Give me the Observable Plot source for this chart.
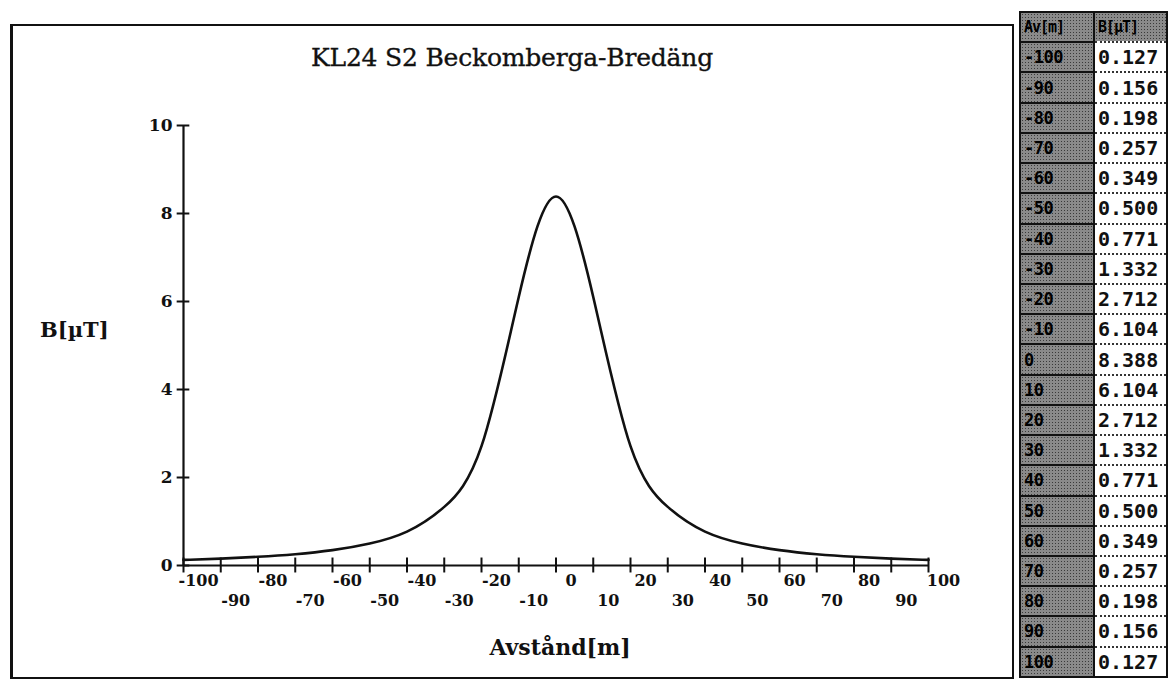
<!DOCTYPE html>
<html>
<head>
<meta charset="utf-8">
<script src="https://cdn.jsdelivr.net/npm/d3@7"></script>
<script src="https://cdn.jsdelivr.net/npm/@observablehq/plot@0.6"></script>
<style>
  html, body { margin: 0; padding: 0; background: #fff; }
  #page { position: relative; width: 1170px; height: 682px; overflow: hidden; background: #fff; }
  #frame { position: absolute; left: 10px; top: 24px; width: 1004px; height: 655px;
           border: 2px solid #111; border-left-width: 3px; box-sizing: border-box; }
  #title { position: absolute; left: 262px; width: 500px; top: 43px; text-align: center;
           font-family: "DejaVu Serif", serif; font-size: 25px; color: #111; white-space: nowrap;
           -webkit-text-stroke: 0.35px #111; letter-spacing: -0.2px; }
  #ylab { position: absolute; left: 40px; top: 317px; font-family: "DejaVu Serif", serif;
          font-weight: bold; font-size: 21px; color: #111; }
  #xlab { position: absolute; left: 440px; width: 240px; top: 634px; text-align: center;
          font-family: "DejaVu Serif", serif; font-weight: bold; font-size: 22px; color: #111; }
  #chart { position: absolute; left: 0; top: 0; }
  #tbl { position: absolute; left: 1019px; top: 11px; width: 149px; height: 667px;
         border-collapse: collapse; border: 2px solid #111; table-layout: fixed; }
  #tbl td { padding: 0 0 0 3px; height: 30px; box-sizing: border-box; white-space: nowrap; overflow: hidden; }
  #tbl td.k { width: 74px; background-color: #8a8a8a;
              background-image: radial-gradient(#3a3a3a 35%, transparent 40%);
              background-size: 3px 3px; border-top: 2px solid #111; border-right: 2px solid #111;
              font-family: "DejaVu Sans Mono", monospace; font-weight: bold; font-size: 17px; color: #000;
              letter-spacing: -0.5px; }
  #tbl td.v { background: #fff; border-top: 2px dotted #333;
              font-family: "DejaVu Sans Mono", monospace; font-weight: bold; font-size: 20px; color: #111; }
  #tbl tr.h td { background-color: #8a8a8a;
              background-image: radial-gradient(#3a3a3a 35%, transparent 40%);
              background-size: 3px 3px; font-size: 15px; color: #000; border-top: none; letter-spacing: -1px; }
</style>
</head>
<body>
<div id="page">
  <div id="frame"></div>
  <div id="title">KL24 S2 Beckomberga-Bredäng</div>
  <div id="ylab">B[µT]</div>
  <div id="xlab">Avstånd[m]</div>
  <div id="chart"></div>
  <table id="tbl"></table>
</div>
<script>
// Distances (m) and magnetic flux density B (µT)
const distances = [-100, -90, -80, -70, -60, -50, -40, -30, -20, -10, 0, 10, 20, 30, 40, 50, 60, 70, 80, 90, 100];
const bValues   = [0.127, 0.156, 0.198, 0.257, 0.349, 0.500, 0.771, 1.332, 2.712, 6.104, 8.388,
                   6.104, 2.712, 1.332, 0.771, 0.500, 0.349, 0.257, 0.198, 0.156, 0.127];
const xTicksRow1 = [-100, -80, -60, -40, -20, 0, 20, 40, 60, 80, 100];
const xTicksRow2 = [-90, -70, -50, -30, -10, 10, 30, 50, 70, 90];
const yTicks = [0, 2, 4, 6, 8, 10];
const tableHeader = ["Av[m]", "B[µT]"];
const tableValues = ["0.127", "0.156", "0.198", "0.257", "0.349", "0.500", "0.771", "1.332", "2.712", "6.104", "8.388",
                     "6.104", "2.712", "1.332", "0.771", "0.500", "0.349", "0.257", "0.198", "0.156", "0.127"];

const data = distances.map((d, i) => ({x: d, y: bValues[i]}));
const fmt = d => String(d);

const plot = Plot.plot({
  width: 1012,
  height: 682,
  marginLeft: 183,
  marginRight: 84,
  marginTop: 125,
  marginBottom: 117,
  style: {background: "transparent", fontFamily: "DejaVu Serif, serif", fontSize: "15px", color: "#111"},
  x: {domain: [-100, 100]},
  y: {domain: [0, 10]},
  marks: [
    // axis lines
    Plot.ruleY([0], {x1: -100, x2: 100, stroke: "#111", strokeWidth: 2}),
    Plot.ruleX([-100], {y1: 0, y2: 10, stroke: "#111", strokeWidth: 2.2}),
    // crossing tick marks
    Plot.ruleX(distances, {x: d => d, y1: -0.17, y2: 0.17, stroke: "#111", strokeWidth: 2}),
    Plot.ruleY(yTicks, {y: d => d, x1: -101.7, x2: -98.3, stroke: "#111", strokeWidth: 2}),
    // tick labels
    Plot.axisY({ticks: yTicks, tickSize: 0, tickPadding: 11, label: null, tickFormat: fmt,
                fontSize: 17, fontWeight: "bold"}),
    Plot.axisX({ticks: xTicksRow1, tickSize: 0, tickPadding: 9, dx: 15, label: null, tickFormat: fmt,
                fontSize: 16, fontWeight: "bold"}),
    Plot.axisX({ticks: xTicksRow2, tickSize: 0, tickPadding: 29, dx: 15, label: null, tickFormat: fmt,
                fontSize: 16, fontWeight: "bold"}),
    // the curve
    Plot.line(data, {x: "x", y: "y", curve: "natural", stroke: "#111", strokeWidth: 2.6})
  ]
});
document.getElementById("chart").appendChild(plot);

// table
const tbl = document.getElementById("tbl");
const hr = document.createElement("tr");
hr.className = "h";
tableHeader.forEach((t, i) => {
  const td = document.createElement("td");
  td.className = i === 0 ? "k" : "v";
  td.textContent = t;
  hr.appendChild(td);
});
tbl.appendChild(hr);
distances.forEach((d, i) => {
  const tr = document.createElement("tr");
  const a = document.createElement("td"); a.className = "k"; a.textContent = String(d);
  const b = document.createElement("td"); b.className = "v"; b.textContent = tableValues[i];
  tr.appendChild(a); tr.appendChild(b); tbl.appendChild(tr);
});
</script>
</body>
</html>
